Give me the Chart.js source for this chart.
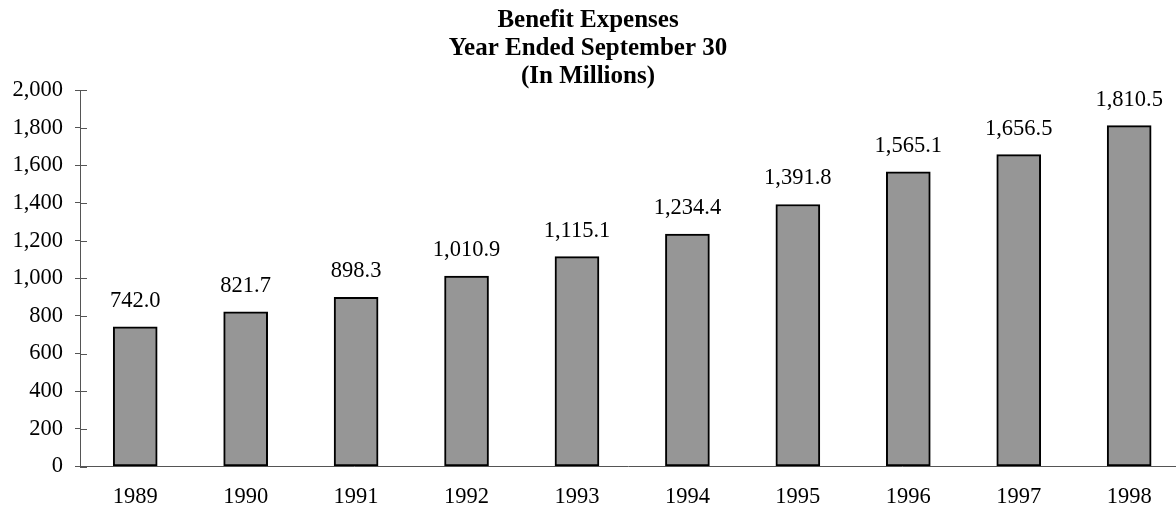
<!DOCTYPE html>
<html>
<head>
<meta charset="utf-8">
<script src="https://cdn.jsdelivr.net/npm/chart.js@4.4.0/dist/chart.umd.min.js"></script>
<style>
  html, body { margin: 0; padding: 0; background: #fff; overflow: hidden; }
</style>
</head>
<body>
<canvas id="chart" width="1176" height="510"></canvas>
<script>
// Fiscal years and benefit expenses (in millions)
const years = [1989, 1990, 1991, 1992, 1993, 1994, 1995, 1996, 1997, 1998];
const expenses = [742.0, 821.7, 898.3, 1010.9, 1115.1, 1234.4, 1391.8, 1565.1, 1656.5, 1810.5];
const titleLines = ['Benefit Expenses', 'Year Ended September 30', '(In Millions)'];

const serif = "'Liberation Serif', 'Times New Roman', serif";
const axisColor = '#555555';
const fmt = new Intl.NumberFormat('en-US', { minimumFractionDigits: 1, maximumFractionDigits: 1 });

// Value printed above each bar
const valueLabels = {
    id: 'valueLabels',
    afterDatasetsDraw(chart) {
        const ctx = chart.ctx;
        const meta = chart.getDatasetMeta(0);
        ctx.save();
        ctx.font = `22.5px ${serif}`;
        ctx.fillStyle = '#000';
        ctx.textAlign = 'center';
        ctx.textBaseline = 'alphabetic';
        meta.data.forEach((bar, i) => {
            ctx.fillText(fmt.format(expenses[i]), bar.x, bar.y - 20);
        });
        ctx.restore();
    }
};

// Y tick marks cross the axis, so draw the inner half too
const innerTicks = {
    id: 'innerTicks',
    afterDraw(chart) {
        const ctx = chart.ctx;
        const y = chart.scales.y;
        const left = chart.chartArea.left;
        ctx.save();
        ctx.strokeStyle = axisColor;
        ctx.lineWidth = 1;
        ctx.beginPath();
        y.ticks.forEach(t => {
            const py = Math.round(y.getPixelForValue(t.value)) + 0.5;
            ctx.moveTo(left, py);
            ctx.lineTo(left + 7, py);
        });
        ctx.stroke();
        ctx.restore();
    }
};

const chart = new Chart(document.getElementById('chart'), {
    type: 'bar',
    data: {
        datasets: [{
            label: 'Benefit Expenses',
            data: expenses.map((v, i) => ({ x: i, y: v })),
            backgroundColor: '#969696',
            borderColor: '#000000',
            borderWidth: 2,
            borderSkipped: false,
            barThickness: 44,
        }]
    },
    options: {
        responsive: false,
        animation: false,
        layout: { padding: 0 },
        scales: {
            x: {
                type: 'linear',
                offset: false,
                min: -0.5,
                max: 9.424,
                afterFit: (scale) => { scale.height = 43.5; },
                grid: { display: false, drawTicks: false },
                border: { display: true, color: axisColor, width: 1 },
                afterBuildTicks: (scale) => {
                    scale.ticks = years.map((_, i) => ({ value: i }));
                },
                ticks: {
                    autoSkip: false,
                    maxRotation: 0,
                    padding: 17,
                    color: '#000',
                    font: { family: serif, size: 22.5 },
                    callback: (v) => String(years[v]),
                },
            },
            y: {
                min: 0,
                max: 2000,
                afterFit: (scale) => { scale.width = 80; },
                grid: { drawOnChartArea: false, tickLength: 5, color: axisColor },
                border: { display: true, color: axisColor, width: 1 },
                ticks: {
                    stepSize: 200,
                    padding: 12,
                    color: '#000',
                    font: { family: serif, size: 22.5 },
                    callback: (v) => v.toLocaleString('en-US'),
                },
            },
        },
        plugins: {
            legend: { display: false },
            tooltip: { enabled: false },
            title: {
                display: true,
                text: titleLines,
                color: '#000',
                font: { family: serif, size: 25, weight: 'bold', lineHeight: 28 / 25 },
                padding: { top: 7, bottom: -1 },
            },
        },
    },
    plugins: [valueLabels, innerTicks],
});
</script>
</body>
</html>
